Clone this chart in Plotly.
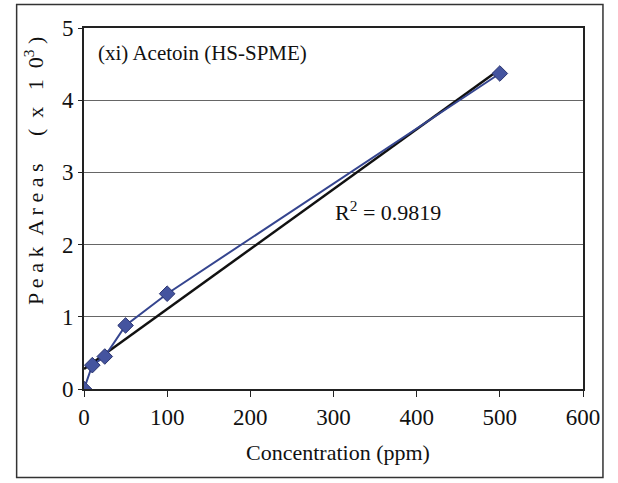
import numpy as np
import plotly.graph_objects as go

# Data
concentration = [0, 10, 25, 50, 100, 500]          # ppm
peak_area = [0.0, 0.33, 0.45, 0.88, 1.32, 4.37]      # x 10^3
x_ticks = [0, 100, 200, 300, 400, 500, 600]
y_ticks = [0, 1, 2, 3, 4, 5]
r2_label = "R<sup>2</sup> = 0.9819"
panel_label = "(xi) Acetoin (HS-SPME)"

FONT = "Liberation Serif"

slope, intercept = np.polyfit(concentration, peak_area, 1)
trend_x = [0, max(concentration)]
trend_y = [intercept + slope * v for v in trend_x]

fig = go.Figure()
fig.add_trace(go.Scatter(
    x=trend_x, y=trend_y, mode="lines",
    line=dict(color="#111111", width=2.5), showlegend=False, hoverinfo="skip"))
fig.add_trace(go.Scatter(
    x=concentration, y=peak_area, mode="lines+markers",
    line=dict(color="#35458f", width=2),
    marker=dict(symbol="diamond", size=12, color="#44549f",
                line=dict(color="#2a3470", width=1)),
    showlegend=False))

fig.update_layout(
    width=618, height=483,
    margin=dict(l=84, r=35, t=28, b=94),
    paper_bgcolor="white", plot_bgcolor="white",
    font=dict(family=FONT, size=22, color="#111111"),
    xaxis=dict(range=[0, 600], tickvals=x_ticks, ticks="outside", ticklen=6,
               tickcolor="#222", showgrid=False, zeroline=False,
               showline=True, linecolor="#222", linewidth=2, mirror=True,
               tickfont=dict(size=23, family=FONT)),
    yaxis=dict(range=[0, 5], tickvals=y_ticks, ticks="outside", ticklen=4,
               tickcolor="#222", showgrid=True, gridcolor="#666", gridwidth=1.2,
               zeroline=False, showline=True, linecolor="#222", linewidth=2,
               mirror=True, tickfont=dict(size=23, family=FONT)),
    annotations=[
        dict(text=panel_label, x=0.025, y=0.93, xref="paper", yref="paper",
             xanchor="left", yanchor="middle", showarrow=False,
             font=dict(size=21, family=FONT)),
        dict(text=r2_label, x=299, y=2.47, xref="x", yref="y",
             xanchor="left", yanchor="middle", showarrow=False,
             font=dict(size=22, family=FONT)),
        dict(text="Concentration (ppm)", x=0.51, y=-0.175, xref="paper", yref="paper",
             xanchor="center", yanchor="middle", showarrow=False,
             font=dict(size=22, family=FONT)),
        dict(text="P e a k &nbsp;A r e a s &nbsp;&nbsp;&nbsp; ( &nbsp;x &nbsp; 1 &nbsp;0<sup>3</sup> )",
             x=-0.1, y=0.604, xref="paper", yref="paper",
             xanchor="center", yanchor="middle", textangle=-90, showarrow=False,
             font=dict(size=22, family=FONT)),
    ],
    shapes=[dict(type="rect", xref="paper", yref="paper",
                 x0=-0.135, x1=1.04, y0=-0.245, y1=1.065,
                 line=dict(color="#333", width=1.5))],
)
fig.write_html("out.html")
